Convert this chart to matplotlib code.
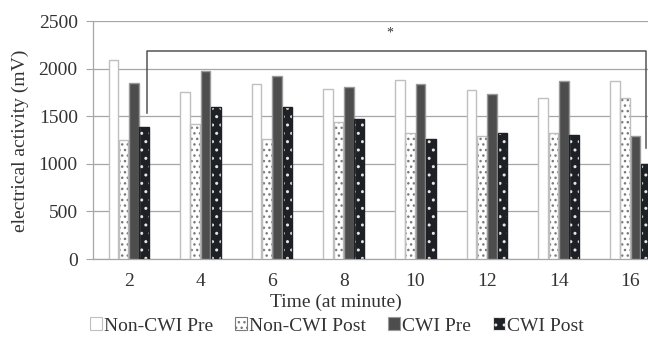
"""
Grouped bar chart of electrical activity over time for Non-CWI and CWI groups,
pre and post, with a significance bracket between minute 2 and minute 16.
"""

import numpy as np
import matplotlib
matplotlib.use("Agg")
import matplotlib.pyplot as plt
from matplotlib.patches import Patch

plt.rcParams["font.family"] = ["Liberation Serif", "DejaVu Serif"]
plt.rcParams["hatch.linewidth"] = 1.0

minutes = ["2", "4", "6", "8", "10", "12", "14", "16"]
non_cwi_pre = [2090, 1750, 1835, 1785, 1880, 1775, 1690, 1870]
non_cwi_post = [1245, 1420, 1265, 1440, 1320, 1290, 1320, 1690]
cwi_pre = [1845, 1980, 1920, 1805, 1840, 1735, 1870, 1290]
cwi_post = [1390, 1600, 1595, 1475, 1260, 1325, 1305, 1000]
series_names = ["Non-CWI Pre", "Non-CWI Post", "CWI Pre", "CWI Post"]

# significance bracket (category index, value)
bracket_left = (0.26, 1530)
bracket_right = (7.22, 1165)
bracket_top = 2180
star_pos = (3.64, 2370)

GRID = "#a6a6a6"
TXT = "#333333"

# face, hatch colour, hatch, outline
styles = [
    ("white", "white", "", "#bfbfbf"),
    ("white", "#7a7a7a", "...", "#bfbfbf"),
    ("#4d4d4d", "#4d4d4d", "", "#9a9a9a"),
    ("#1d2024", "#e6e6e6", "..", "#1d2024"),
]

fig = plt.figure(figsize=(6.48, 3.41), dpi=100)
ax = fig.add_axes([93 / 648, 1 - 259 / 341, 573 / 648, 238 / 341])

x = np.arange(len(minutes))
width = 0.135
offsets = [-0.215, -0.072, 0.072, 0.215]
data = [non_cwi_pre, non_cwi_post, cwi_pre, cwi_post]

for vals, off, (face, hcol, hatch, edge) in zip(data, offsets, styles):
    ax.bar(x + off, vals, width, color=face, edgecolor=hcol, hatch=hatch,
           linewidth=0, zorder=3)
    ax.bar(x + off, vals, width, fill=False, edgecolor=edge, linewidth=1.0,
           zorder=4)

# bracket
bx = [bracket_left[0], bracket_left[0], bracket_right[0], bracket_right[0]]
by = [bracket_left[1], bracket_top, bracket_top, bracket_right[1]]
ax.plot(bx, by, color="#555555", lw=1.1, zorder=5, clip_on=False)
ax.text(star_pos[0], star_pos[1], "*", ha="center", va="center",
        fontsize=10, color=TXT)

ax.set_xlim(-0.5, 7.5)
ax.set_ylim(0, 2500)
ax.set_yticks(range(0, 2501, 500))
ax.set_xticks(x)
ax.set_xticklabels(minutes)
ax.yaxis.grid(True, color=GRID, lw=0.9, zorder=0)
ax.set_axisbelow(True)
for s in ("top", "right"):
    ax.spines[s].set_visible(False)
for s in ("left", "bottom"):
    ax.spines[s].set_color(GRID)
    ax.spines[s].set_linewidth(0.9)
ax.tick_params(axis="y", length=5, color=GRID, labelsize=14,
               labelcolor=TXT, pad=6)
ax.tick_params(axis="x", length=0, labelsize=14, labelcolor=TXT, pad=10)

fig.text(20 / 648, 1 - 141 / 341, "electrical activity (mV)", rotation=90,
         ha="center", va="center", fontsize=14, color=TXT)
fig.text(336 / 648, 1 - 302 / 341, "Time (at minute)", ha="center",
         va="center", fontsize=14, color=TXT)

handles = [Patch(facecolor=f, edgecolor=(e if not h else hc), hatch=h, lw=0.8)
           for (f, hc, h, e) in styles]
fig.legend(handles, series_names, loc="center", ncol=4,
           bbox_to_anchor=(337 / 648, 1 - 326 / 341), frameon=False,
           fontsize=14, handlelength=0.6, handleheight=0.6,
           handletextpad=0.1, columnspacing=1.15, labelcolor=TXT,
           borderaxespad=0, borderpad=0)

fig.savefig("out.png", dpi=100)
